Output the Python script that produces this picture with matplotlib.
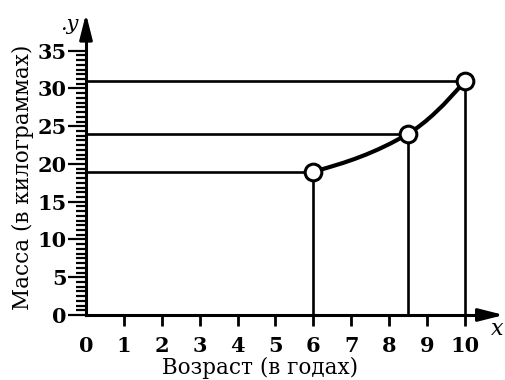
import matplotlib
matplotlib.use("Agg")
import matplotlib.pyplot as plt
from matplotlib.path import Path
from matplotlib.patches import PathPatch
from matplotlib.ticker import FixedLocator

# возраст (годы) и масса (кг)
age = [6, 8.5, 10]
mass = [19, 24, 31]
# наклон касательной в каждой точке для гладкой кривой
slopes = [1.3, 3.0, 6.0]

x_ticks = list(range(0, 11))
y_ticks = list(range(0, 36, 5))

plt.rcParams["font.family"] = ["DejaVu Serif"]

fig = plt.figure(figsize=(5.05, 3.8), dpi=100)
ax = fig.add_axes([0, 0, 1, 1])
ax.set_xlim(-2.27, 11.06)
ax.set_ylim(-8.61, 41.72)

for s in ("top", "right"):
    ax.spines[s].set_visible(False)
ax.spines["left"].set_position(("data", 0))
ax.spines["bottom"].set_position(("data", 0))
ax.spines["left"].set_bounds(0, 38)
ax.spines["bottom"].set_bounds(0, 10.5)
ax.spines["left"].set_linewidth(2.2)
ax.spines["bottom"].set_linewidth(2.2)

# стрелки осей
arrow = dict(arrowstyle="-|>,head_length=0.95,head_width=0.24", lw=2.2,
             color="black", mutation_scale=16, shrinkA=0, shrinkB=0)
ax.annotate("", xy=(0, 39.9), xytext=(0, 37), arrowprops=arrow)
ax.annotate("", xy=(11.03, 0), xytext=(10.4, 0), arrowprops=arrow)

ax.set_xticks(x_ticks)
ax.set_xticklabels([str(v) for v in x_ticks], fontsize=15, fontweight="bold")
ax.set_yticks(y_ticks)
ax.set_yticklabels([str(v) for v in y_ticks], fontsize=15, fontweight="bold")
# мелкие деления шкалы массы: восемь на каждые 5 кг
ax.yaxis.set_minor_locator(FixedLocator([i * 0.625 for i in range(1, 56)]))
ax.tick_params(axis="x", direction="out", length=8, width=2, pad=7)
ax.tick_params(axis="y", which="major", direction="out", length=13, width=1.6, pad=1)
ax.tick_params(axis="y", which="minor", direction="out", length=7.5, width=1.6)
ax.xaxis.get_major_ticks()[0].tick1line.set_visible(False)

# проекции точек на оси
ax.hlines(mass, 0, age, colors="black", lw=1.9, zorder=2)
ax.vlines(age, 0, mass, colors="black", lw=1.9, zorder=2)

# гладкая кривая через точки (кубические сегменты Безье)
verts = [(age[0], mass[0])]
codes = [Path.MOVETO]
for i in range(len(age) - 1):
    dx = (age[i + 1] - age[i]) / 3
    verts += [(age[i] + dx, mass[i] + slopes[i] * dx),
              (age[i + 1] - dx, mass[i + 1] - slopes[i + 1] * dx),
              (age[i + 1], mass[i + 1])]
    codes += [Path.CURVE4] * 3
ax.add_patch(PathPatch(Path(verts, codes), fill=False, lw=3, ec="black",
                       capstyle="round", zorder=3))

ax.plot(age, mass, "o", ms=12, mfc="white", mec="black", mew=2.2, zorder=4)

ax.text(0.138, 0.935, ".y", transform=ax.transAxes, fontsize=15,
        style="italic", ha="center", va="center")
ax.text(0.984, 0.135, "x", transform=ax.transAxes, fontsize=16,
        style="italic", ha="center", va="center")

ax.text(0.515, 0.032, "Возраст (в годах)", transform=ax.transAxes,
        fontsize=15.5, ha="center", va="center")
ax.text(0.046, 0.534, "Масса (в килограммах)", transform=ax.transAxes,
        fontsize=15.5, ha="center", va="center", rotation=90)

fig.savefig("out.png", dpi=100)
